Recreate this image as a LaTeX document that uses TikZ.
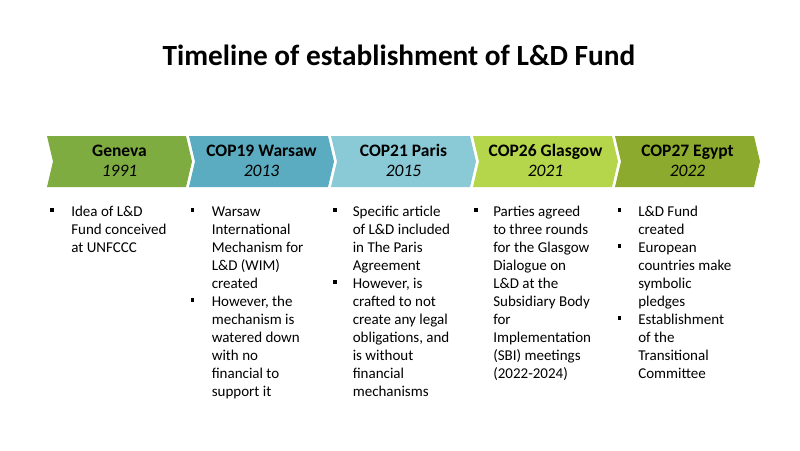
\documentclass[tikz,border=0pt]{standalone}
\usepackage{fontspec}
\setmainfont{Carlito}
\definecolor{cgen}{RGB}{127,172,65}
\definecolor{cwar}{RGB}{91,172,192}
\definecolor{cpar}{RGB}{138,201,214}
\definecolor{cgla}{RGB}{181,213,74}
\definecolor{cegy}{RGB}{140,170,45}
\newcommand{\bulsq}{\raisebox{4.5pt}{\rule{3.6pt}{3.6pt}}}
\tikzset{
  headtxt/.style={align=center, inner sep=0pt, font=\fontsize{17.5}{19.3}\selectfont},
  bodytxt/.style={anchor=north west, inner sep=0pt, font=\fontsize{15}{18}\selectfont},
}
\newcommand{\chevron}[2]{%
  \fill[#2] (#1,136) -- ++(139,0) -- ++(6,25.5) -- ++(-6,25.5) -- ++(-139,0) -- ++(6,-25.5) -- cycle;}
\begin{document}
\begin{tikzpicture}[x=1pt,y=-1pt]
\useasboundingbox[fill=white] (0,0) rectangle (800,450);
\node[inner sep=0pt, anchor=base, font=\fontsize{29.3}{32}\selectfont\bfseries] (title) at (399,65) {Timeline of establishment of L\&D Fund};

\chevron{47}{cgen}
\chevron{189}{cwar}
\chevron{331}{cpar}
\chevron{473}{cgla}
\chevron{615}{cegy}

\node[headtxt, anchor=base] (h1) at (119.5,176) {\textbf{Geneva}\\ \textit{1991}};
\node[headtxt, anchor=base] (h2) at (261.5,176) {\textbf{COP19 Warsaw}\\ \textit{2013}};
\node[headtxt, anchor=base] (h3) at (403.5,176) {\textbf{COP21 Paris}\\ \textit{2015}};
\node[headtxt, anchor=base] (h4) at (545.5,176) {\textbf{COP26 Glasgow}\\ \textit{2021}};
\node[headtxt, anchor=base] (h5) at (687.5,176) {\textbf{COP27 Egypt}\\ \textit{2022}};

\node[bodytxt] (b1) at (50,203.5) {\begin{tabular}{@{}l@{\hspace{17.5pt}}l@{}}
\bulsq & Idea of L\&D\\ & Fund conceived\\ & at UNFCCC
\end{tabular}};
\node[bodytxt] (b2) at (190.5,203.5) {\begin{tabular}{@{}l@{\hspace{17.5pt}}l@{}}
\bulsq & Warsaw\\ & International\\ & Mechanism for\\ & L\&D (WIM)\\ & created\\
\bulsq & However, the\\ & mechanism is\\ & watered down\\ & with no\\ & financial to\\ & support it
\end{tabular}};
\node[bodytxt] (b3) at (333,203.5) {\begin{tabular}{@{}l@{\hspace{16pt}}l@{}}
\bulsq & Specific article\\ & of L\&D included\\ & in The Paris\\ & Agreement\\
\bulsq & However, is\\ & crafted to not\\ & create any legal\\ & obligations, and\\ & is without\\ & financial\\ & mechanisms
\end{tabular}};
\node[bodytxt] (b4) at (474,203.5) {\begin{tabular}{@{}l@{\hspace{15.5pt}}l@{}}
\bulsq & Parties agreed\\ & to three rounds\\ & for the Glasgow\\ & Dialogue on\\ & L\&D at the\\ & Subsidiary Body\\ & for\\ & Implementation\\ & (SBI) meetings\\ & (2022-2024)
\end{tabular}};
\node[bodytxt] (b5) at (617.5,203.5) {\begin{tabular}{@{}l@{\hspace{17pt}}l@{}}
\bulsq & L\&D Fund\\ & created\\
\bulsq & European\\ & countries make\\ & symbolic\\ & pledges\\
\bulsq & Establishment\\ & of the\\ & Transitional\\ & Committee
\end{tabular}};
\end{tikzpicture}
\end{document}
